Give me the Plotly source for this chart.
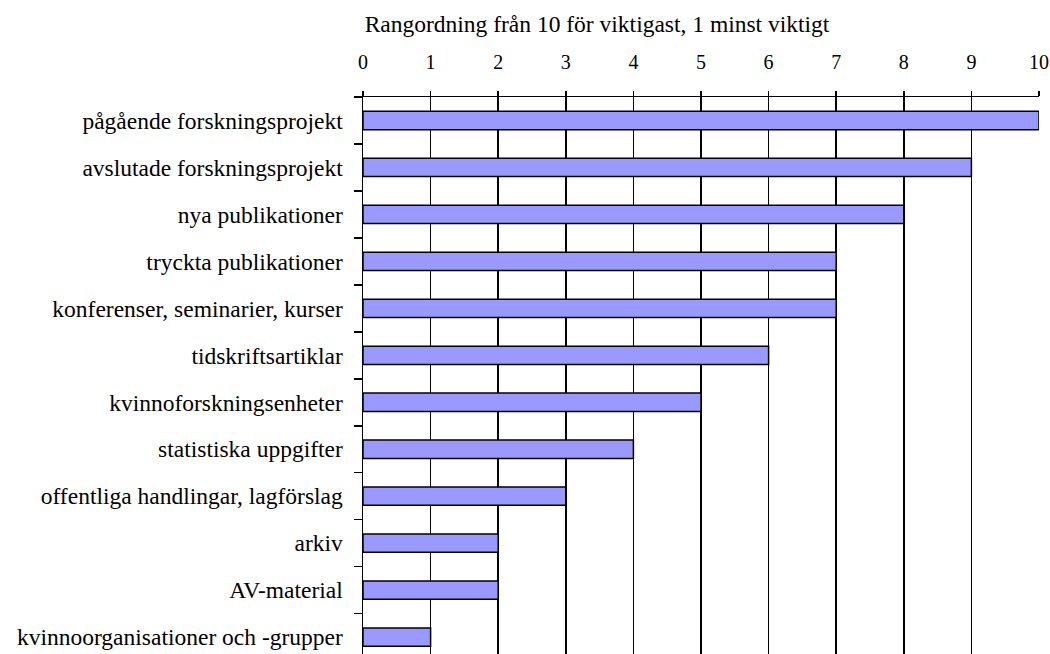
import plotly.graph_objects as go

categories = [
    "pågående forskningsprojekt",
    "avslutade forskningsprojekt",
    "nya publikationer",
    "tryckta publikationer",
    "konferenser, seminarier, kurser",
    "tidskriftsartiklar",
    "kvinnoforskningsenheter",
    "statistiska uppgifter",
    "offentliga handlingar, lagförslag",
    "arkiv",
    "AV-material",
    "kvinnoorganisationer och -grupper",
]
values = [10, 9, 8, 7, 7, 6, 5, 4, 3, 2, 2, 1]
x_ticks = list(range(0, 11))
title_text = "Rangordning från 10 för viktigast, 1 minst viktigt"

FONT = "Liberation Serif, Times New Roman, serif"
FS = 23.5

fig = go.Figure(
    go.Bar(
        x=values,
        y=categories,
        orientation="h",
        width=0.39,
        marker=dict(color="#9999FF", line=dict(color="black", width=1.5)),
    )
)

fig.update_layout(
    width=1050,
    height=654,
    margin=dict(l=363, r=1050 - 1039, t=97, b=0),
    paper_bgcolor="white",
    plot_bgcolor="white",
    showlegend=False,
    font=dict(family=FONT, size=FS, color="black"),
    title=dict(
        text=title_text,
        x=597 / 1050,
        y=1 - 24 / 654,
        xanchor="center",
        yanchor="middle",
        font=dict(family=FONT, size=FS, color="black"),
    ),
    xaxis=dict(
        side="top",
        range=[0, 10],
        tickvals=x_ticks,
        ticks="outside",
        ticklen=5,
        tickwidth=1.5,
        tickcolor="black",
        showline=True,
        linecolor="black",
        linewidth=1.5,
        showgrid=True,
        gridcolor="black",
        gridwidth=1.5,
        zeroline=False,
        ticklabelstandoff=14,
        tickfont=dict(family=FONT, size=20),
        fixedrange=True,
        automargin=False,
    ),
    yaxis=dict(
        type="category",
        range=[11.36, -0.5],
        tickson="boundaries",
        ticks="outside",
        ticklen=8,
        tickwidth=1.5,
        tickcolor="black",
        showline=True,
        linecolor="black",
        linewidth=1.5,
        showgrid=False,
        zeroline=False,
        ticklabelstandoff=14,
        tickfont=dict(family=FONT, size=FS),
        fixedrange=True,
        automargin=False,
    ),
)

fig.write_html(
    "out.html",
    config={"displayModeBar": False, "staticPlot": True},
    post_script="document.body.style.margin='0';document.body.style.overflow='hidden';",
)
